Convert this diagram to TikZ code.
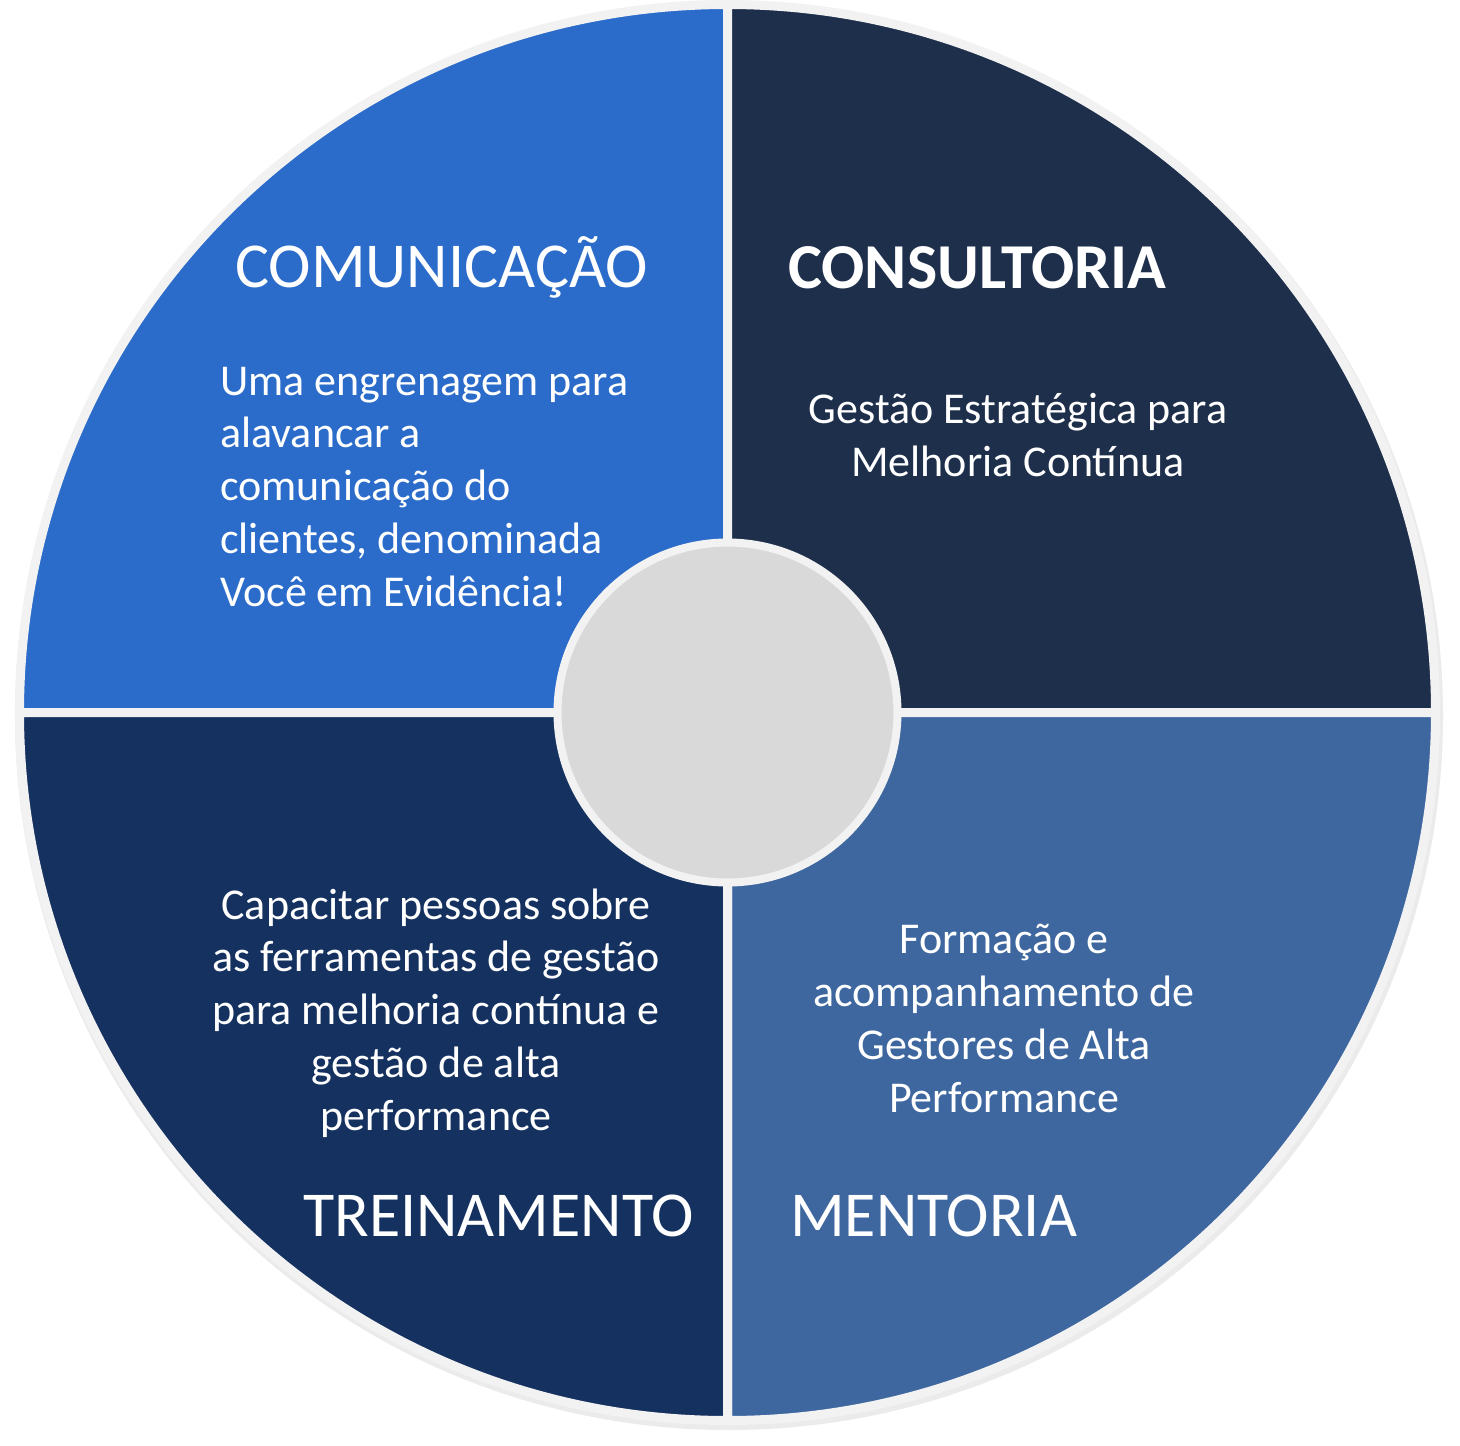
\documentclass[tikz,border=0pt]{standalone}
\usepackage{fontspec}
\setmainfont{Carlito}
\definecolor{commc}{HTML}{2B6CCB}
\definecolor{consc}{HTML}{1E2F4B}
\definecolor{treic}{HTML}{153160}
\definecolor{mentc}{HTML}{3E67A0}
\definecolor{ringc}{HTML}{F2F2F2}
\definecolor{hubc}{HTML}{D9D9D9}
\begin{document}
\begin{tikzpicture}[x=1pt,y=-1pt,
  sector/.style={draw=ringc, line width=9pt, line join=miter},
  title/.style={text=white, inner sep=0pt, font=\fontsize{64}{76}\selectfont},
  body/.style={text=white, inner sep=0pt, font=\fontsize{44}{52.75}\selectfont}]
\useasboundingbox[fill=white] (0,0) rectangle (1460,1446);
\coordinate (c) at (727.5,712.5);
% soft shadow
\fill[black!8] (729,716) circle[radius=714pt];
% sectors
\filldraw[sector, fill=commc] (c) -- ++(180:708pt) arc[start angle=180, end angle=90, radius=708pt] -- cycle;
\filldraw[sector, fill=consc] (c) -- ++(90:708pt) arc[start angle=90, end angle=0, radius=708pt] -- cycle;
\filldraw[sector, fill=mentc] (c) -- ++(0:708pt) arc[start angle=0, end angle=-90, radius=708pt] -- cycle;
\filldraw[sector, fill=treic] (c) -- ++(-90:708pt) arc[start angle=-90, end angle=-180, radius=708pt] -- cycle;
% hub
\node[circle, minimum size=340pt, fill=hubc, draw=ringc, line width=8pt] (hub) at (c) {};
% titles
\node[title, anchor=base west] (tcom) at (235,287) {COMUNICAÇÃO};
\node[title, anchor=base west, font=\fontsize{64}{76}\selectfont\bfseries] (tcon) at (788,288) {CONSULTORIA};
\node[title, anchor=base west] (ttre) at (303,1236) {TREINAMENTO};
\node[title, anchor=base west] (tmen) at (790,1236) {MENTORIA};
% bodies (base anchor = baseline of last line)
\node[body, anchor=base west, align=left] (bcom) at (220,606) {Uma engrenagem para\\alavancar a\\comunicação do\\clientes, denominada\\Você em Evidência!};
\node[body, anchor=base, align=center] (bcon) at (1018,476) {Gestão Estratégica para\\Melhoria Contínua};
\node[body, anchor=base, align=center] (btre) at (436,1130) {Capacitar pessoas sobre\\as ferramentas de gestão\\para melhoria contínua e\\gestão de alta\\performance};
\node[body, anchor=base, align=center] (bmen) at (1004,1112) {Formação e\\acompanhamento de\\Gestores de Alta\\Performance};
\end{tikzpicture}
\end{document}
